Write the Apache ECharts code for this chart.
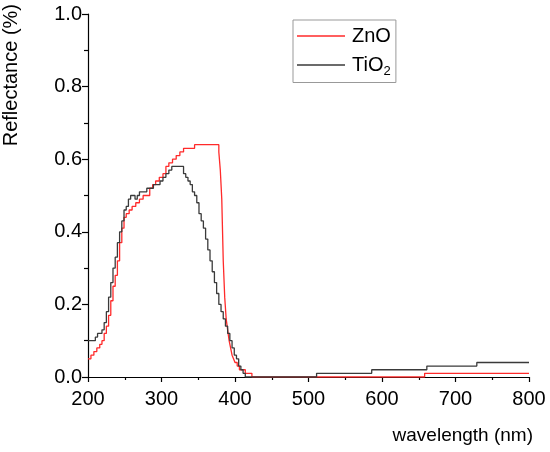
<!DOCTYPE html>
<html>
<head>
<meta charset="utf-8">
<script src="https://cdn.jsdelivr.net/npm/echarts@6/dist/echarts.min.js"></script>
<style>
  html, body { margin: 0; padding: 0; background: #fff; }
  #chart { width: 550px; height: 452px; }
</style>
</head>
<body>
<div id="chart"></div>
<script>
// wavelength (nm) / reflectance
let znoWl = [200, 204, 208, 212, 216, 219, 222, 225, 228, 231, 234, 237, 240, 243, 246, 249, 252, 256, 260, 265,
  270, 275, 280, 284, 288, 292, 297, 302, 306, 310, 315, 320, 325, 330, 340, 345, 360, 375, 378, 380,
  382, 384, 386, 388, 390, 392, 394, 396, 398, 400, 403, 406, 410, 414, 420, 423, 658, 800];
let znoR = [0.05, 0.06, 0.07, 0.08, 0.09, 0.10, 0.12, 0.14, 0.17, 0.21, 0.25, 0.28, 0.32, 0.37, 0.41, 0.44, 0.45, 0.46, 0.47, 0.48,
  0.49, 0.50, 0.50, 0.52, 0.53, 0.54, 0.55, 0.56, 0.58, 0.59, 0.60, 0.61, 0.62, 0.63, 0.63, 0.64, 0.64, 0.64, 0.62, 0.57,
  0.49, 0.32, 0.22, 0.16, 0.13, 0.10, 0.08, 0.06, 0.05, 0.04, 0.03, 0.02, 0.02, 0.01, 0.01, 0.00, 0.01, 0.01];

let tioWl = [200, 207, 210, 213, 216, 219, 222, 225, 228, 231, 234, 237, 240, 243, 246, 249, 252, 255, 258, 261,
  264, 267, 270, 275, 280, 285, 289, 294, 298, 302, 306, 310, 314, 327, 330, 333, 336, 339, 342, 345,
  348, 351, 354, 357, 360, 363, 366, 369, 372, 375, 378, 381, 384, 387, 390, 393, 396, 399, 402, 405,
  408, 411, 414, 511, 586, 661, 729, 800];
let tioR = [0.10, 0.10, 0.11, 0.12, 0.12, 0.13, 0.15, 0.18, 0.22, 0.26, 0.30, 0.33, 0.37, 0.40, 0.43, 0.46, 0.47, 0.49, 0.50, 0.50,
  0.49, 0.50, 0.51, 0.51, 0.52, 0.52, 0.53, 0.53, 0.54, 0.55, 0.56, 0.57, 0.58, 0.58, 0.56, 0.55, 0.54, 0.53, 0.51, 0.50,
  0.48, 0.45, 0.43, 0.41, 0.38, 0.35, 0.32, 0.29, 0.26, 0.23, 0.20, 0.18, 0.16, 0.14, 0.12, 0.10, 0.08, 0.06, 0.05, 0.03,
  0.02, 0.01, 0.00, 0.01, 0.02, 0.03, 0.04, 0.04];

let xTicks = [200, 800, 100];
let yTicks = [0, 1, 0.2];

function pairs(xs, ys) {
  return xs.map((x, i) => [x, ys[i]]);
}

let font = 'Liberation Sans, Arial, sans-serif';
let instance = echarts.init(document.getElementById('chart'));
instance.setOption({
  animation: false,
  textStyle: { fontFamily: font },
  grid: { left: 88, right: 21, top: 14, bottom: 75 },
  legend: {
    orient: 'vertical',
    left: 293,
    top: 20,
    padding: [6, 5, 5, 4],
    borderColor: '#999',
    borderWidth: 1,
    itemGap: 9,
    itemWidth: 48,
    itemHeight: 1.5,
    icon: 'rect',
    textStyle: {
      fontFamily: font,
      fontSize: 20,
      color: '#000',
      padding: [0, 0, 0, 2],
      rich: {
        sub: { fontSize: 13, verticalAlign: 'bottom', padding: [12, 0, 0, 0], fontFamily: font, color: '#000' }
      }
    },
    formatter: (name) => name === 'TiO2' ? 'TiO{sub|2}' : name,
    data: ['ZnO', 'TiO2']
  },
  xAxis: {
    type: 'value',
    min: xTicks[0],
    max: xTicks[1],
    interval: xTicks[2],
    axisLine: { lineStyle: { color: '#000', width: 1.2 } },
    axisTick: { inside: false, length: 5, lineStyle: { color: '#000', width: 1.2 } },
    minorTick: { show: true, splitNumber: 2, length: 3, lineStyle: { color: '#000', width: 1.2 } },
    axisLabel: { color: '#000', fontSize: 20, margin: 12, fontFamily: font },
    splitLine: { show: false }
  },
  yAxis: {
    type: 'value',
    min: yTicks[0],
    max: yTicks[1],
    interval: yTicks[2],
    axisLine: { show: true, lineStyle: { color: '#000', width: 1.2 } },
    axisTick: { show: true, inside: false, length: 6, lineStyle: { color: '#000', width: 1.2 } },
    minorTick: { show: true, splitNumber: 2, length: 4, lineStyle: { color: '#000', width: 1.2 } },
    axisLabel: { color: '#000', fontSize: 20, margin: 6, fontFamily: font, formatter: (v) => v.toFixed(1) },
    splitLine: { show: false }
  },
  graphic: [
    {
      type: 'text',
      left: 1,
      top: 4,
      rotation: Math.PI / 2,
      style: { text: 'Reflectance (%)', fontSize: 20, fill: '#000', fontFamily: font }
    },
    {
      type: 'text',
      right: 17,
      top: 426,
      style: { text: 'wavelength (nm)', fontSize: 19, fill: '#000', fontFamily: font }
    }
  ],
  series: [
    {
      name: 'ZnO',
      type: 'line',
      step: 'end',
      symbol: 'none',
      lineStyle: { color: '#ff2a2a', width: 1.3 },
      itemStyle: { color: '#ff2a2a' },
      data: pairs(znoWl, znoR)
    },
    {
      name: 'TiO2',
      type: 'line',
      step: 'end',
      symbol: 'none',
      lineStyle: { color: '#3a3a3a', width: 1.3 },
      itemStyle: { color: '#3a3a3a' },
      data: pairs(tioWl, tioR)
    }
  ]
});
window.onresize = () => {
  instance.resize();
};
</script>
</body>
</html>
